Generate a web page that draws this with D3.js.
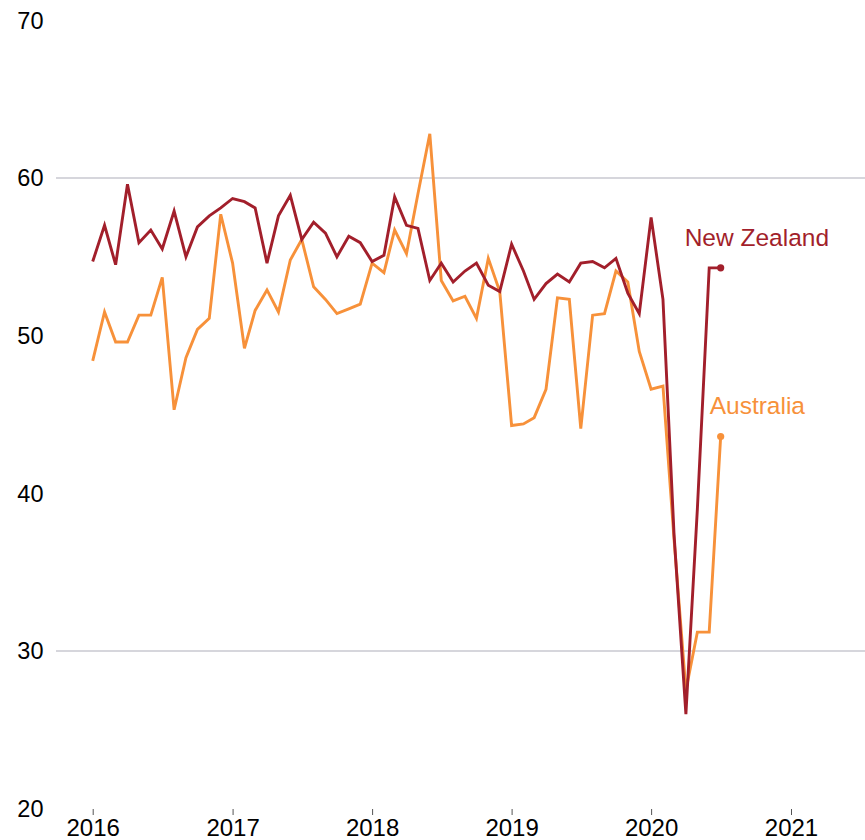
<!DOCTYPE html>
<html>
<head>
<meta charset="utf-8">
<script src="https://cdn.jsdelivr.net/npm/d3@7"></script>
<style>
  html, body { margin: 0; padding: 0; background: #fff; }
  svg { display: block; font-family: "Liberation Sans", Arial, sans-serif; }
</style>
</head>
<body>
<svg id="chart" width="865" height="840"></svg>
<script>
// monthly readings, Jan 2016 - Jul 2020
var firstMonth = new Date(2016, 0, 1);

var newZealand = [
  54.7, 57.0, 54.5, 59.6, 55.9, 56.7, 55.5, 57.9, 55.0, 56.9, 57.6, 58.1,
  58.7, 58.5, 58.1, 54.6, 57.6, 58.9, 56.1, 57.2, 56.5, 55.0, 56.3, 55.9,
  54.7, 55.1, 58.8, 57.0, 56.8, 53.5, 54.6, 53.4, 54.1, 54.6, 53.2, 52.8,
  55.8, 54.1, 52.3, 53.3, 53.9, 53.4, 54.6, 54.7, 54.3, 54.9, 52.7, 51.4,
  57.5, 52.3, 37.4, 26.0, 39.0, 54.3, 54.3
];

var australia = [
  48.4, 51.5, 49.6, 49.6, 51.3, 51.3, 53.7, 45.3, 48.6, 50.4, 51.1, 57.7,
  54.6, 49.2, 51.6, 52.9, 51.5, 54.8, 56.1, 53.1, 52.3, 51.4, 51.7, 52.0,
  54.6, 54.0, 56.7, 55.2, 59.0, 62.8, 53.5, 52.2, 52.5, 51.1, 54.9, 52.8,
  44.3, 44.4, 44.8, 46.6, 52.4, 52.3, 44.1, 51.3, 51.4, 54.1, 53.4, 49.0,
  46.6, 46.8, 37.1, 27.5, 31.2, 31.2, 43.6
];

var yearTicks = [2016, 2017, 2018, 2019, 2020, 2021];
var valueTicks = [20, 30, 40, 50, 60, 70];
var gridValues = [30, 60];

var seriesNames = ["New Zealand", "Australia"];
var seriesColors = ["#a21f2b", "#f7913a"];

var svg = d3.select("#chart"),
    width = +svg.attr("width");

var months = d3.timeMonth.range(firstMonth, d3.timeMonth.offset(firstMonth, newZealand.length));

var x = d3.scaleTime()
    .domain([new Date(2016, 0, 1), new Date(2021, 0, 1)])
    .range([92.7, 791]);

var y = d3.scaleLinear()
    .domain([20, 70])
    .range([808.7, 20.3]);

// gridlines (only some values get a line)
svg.append("g")
  .selectAll("line")
  .data(gridValues)
  .enter().append("line")
    .attr("x1", 56)
    .attr("x2", width)
    .attr("y1", function(d) { return y(d); })
    .attr("y2", function(d) { return y(d); })
    .attr("stroke", "#c8c8d0")
    .attr("stroke-width", 1.3);

// y labels
svg.append("g")
  .selectAll("text")
  .data(valueTicks)
  .enter().append("text")
    .attr("x", 43.5)
    .attr("y", function(d) { return y(d); })
    .attr("dy", "0.36em")
    .attr("text-anchor", "end")
    .attr("font-size", 23.5)
    .attr("fill", "#000")
    .text(function(d) { return d; });

// x axis: small ticks and year labels
var xAxis = svg.append("g")
    .attr("transform", "translate(0,809)")
    .call(d3.axisBottom(x)
      .tickValues(yearTicks.map(function(d) { return new Date(d, 0, 1); }))
      .tickSize(6)
      .tickPadding(4)
      .tickFormat(d3.timeFormat("%Y")));

xAxis.select(".domain").remove();
xAxis.selectAll(".tick line").attr("stroke", "#555").attr("stroke-width", 1);
xAxis.selectAll(".tick text")
    .attr("font-family", "Liberation Sans, Arial, sans-serif")
    .attr("font-size", 24)
    .attr("fill", "#000");

var line = d3.line()
    .x(function(d) { return x(d.date); })
    .y(function(d) { return y(d.value); });

var series = [newZealand, australia].map(function(vals, i) {
  return {
    name: seriesNames[i],
    color: seriesColors[i],
    points: vals.map(function(v, j) { return {date: months[j], value: v}; })
  };
});

// draw Australia first so New Zealand sits on top
var drawOrder = series.slice().reverse();

svg.append("g")
  .selectAll("path")
  .data(drawOrder)
  .enter().append("path")
    .attr("fill", "none")
    .attr("stroke", function(d) { return d.color; })
    .attr("stroke-width", 2.9)
    .attr("stroke-linejoin", "miter")
    .attr("d", function(d) { return line(d.points); });

// end markers
svg.append("g")
  .selectAll("circle")
  .data(drawOrder)
  .enter().append("circle")
    .attr("cx", function(d) { return x(d.points[d.points.length - 1].date); })
    .attr("cy", function(d) { return y(d.points[d.points.length - 1].value); })
    .attr("r", 3.6)
    .attr("fill", function(d) { return d.color; });

// series labels, placed relative to the last point
var labelOffsets = [{dx: -36, dy: -22}, {dx: -11, dy: -23}];

svg.append("g")
  .selectAll("text")
  .data(series)
  .enter().append("text")
    .attr("x", function(d, i) { return x(d.points[d.points.length - 1].date) + labelOffsets[i].dx; })
    .attr("y", function(d, i) { return y(d.points[d.points.length - 1].value) + labelOffsets[i].dy; })
    .attr("font-size", 24.5)
    .attr("fill", function(d) { return d.color; })
    .text(function(d) { return d.name; });
</script>
</body>
</html>
